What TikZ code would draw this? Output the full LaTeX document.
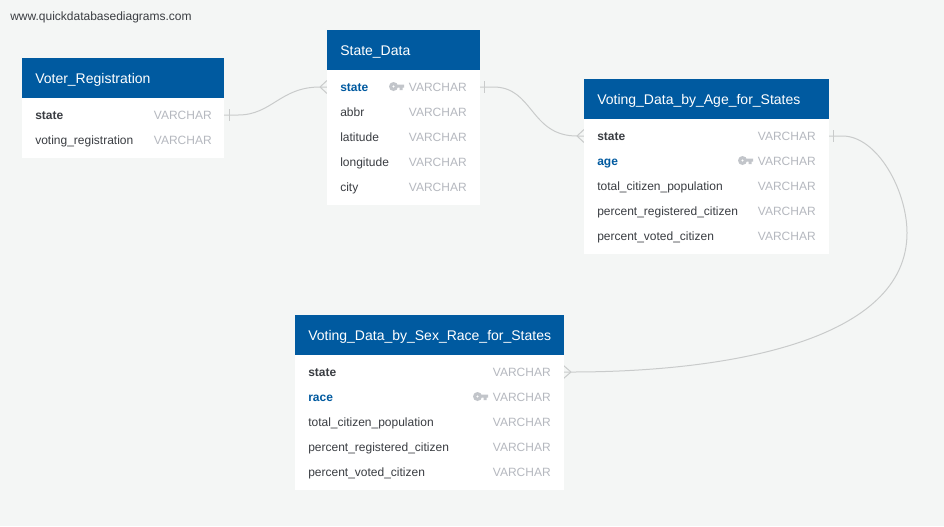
\documentclass[tikz,border=0pt]{standalone}
\usepackage{fontspec}
\setmainfont{Liberation Sans}
\definecolor{bgc}{HTML}{F4F6F5}
\definecolor{headc}{HTML}{005AA0}
\definecolor{typec}{HTML}{B5B8BF}
\definecolor{fieldc}{HTML}{3A3D42}
\definecolor{linkc}{HTML}{C9CBCB}
\definecolor{keyc}{HTML}{C2C5CA}
\tikzset{
  title/.style={text=white,font=\fontsize{10.5pt}{12pt}\selectfont,anchor=base west,inner sep=0pt},
  fname/.style={text=fieldc,font=\fontsize{9pt}{11pt}\selectfont,anchor=base west,inner sep=0pt},
  fbold/.style={fname,font=\fontsize{9pt}{11pt}\selectfont\bfseries},
  fkey/.style={fbold,text=headc},
  ftype/.style={text=typec,font=\fontsize{9pt}{11pt}\selectfont,anchor=base east,inner sep=0pt},
  link/.style={draw=linkc,line width=0.75pt},
}
\newcommand{\keyglyph}[2]{%
  \fill[keyc,even odd rule] (#1+4.5,#2) circle[radius=4.5] (#1+4.5,#2) circle[radius=1.4];
  \fill[keyc] (#1+8,#2-2) rectangle (#1+15,#2+1) (#1+10.5,#2+0.5) rectangle (#1+13.5,#2+3.5);
}
\begin{document}
\begin{tikzpicture}[x=0.75pt,y=-0.75pt]
\useasboundingbox (0,0) rectangle (944,526);
\fill[bgc] (0,0) rectangle (944,526);
\node[anchor=base west,inner sep=0pt,text=fieldc,font=\fontsize{9pt}{11pt}\selectfont] (wm) at (10,20) {www.quickdatabasediagrams.com};

% connectors
\coordinate (vrR) at (224,115);
\coordinate (sdLtip) at (320,87);
\coordinate (sdL) at (327,87);
\coordinate (sdR) at (479.5,87);
\coordinate (agLtip) at (577,136);
\coordinate (agL) at (584,136);
\coordinate (agR) at (828.5,136);
\coordinate (srRtip) at (571,372);
\coordinate (srR) at (563.5,372);
\draw[link] (vrR) -- ++(14,0) .. controls ++(34,0) and (280,87) .. (sdLtip) -- (sdL);
\draw[link] (vrR)++(5,-6) -- ++(0,12);
\draw[link] (sdLtip) -- (327,80.5) (sdLtip) -- (327,93.5);
\draw[link] (sdR) -- ++(14,0) .. controls ++(40,0) and (530,136) .. (agLtip) -- (agL);
\draw[link] (sdR)++(5,-6) -- ++(0,12);
\draw[link] (agLtip) -- (584,129.5) (agLtip) -- (584,142.5);
\draw[link] (agR) -- ++(14,0) .. controls (877,136) and (907,190) .. (907,233) .. controls (907,340) and (730,372) .. (srRtip) -- (srR);
\draw[link] (agR)++(5,-6) -- ++(0,12);
\draw[link] (srRtip) -- (563.5,365.5) (srRtip) -- (563.5,378.5);

% Voter_Registration
\fill[white] (22,98) rectangle (224,158);
\fill[headc] (22,58) rectangle (224,98);
\node[title] (vrT) at (35,83) {Voter\_Registration};
\node[fbold] (vr1) at (35,119.2) {state};
\node[ftype] (vr1t) at (212,119.2) {VARCHAR};
\node[fname] (vr2) at (35,144.2) {voting\_registration};
\node[ftype] (vr2t) at (212,144.2) {VARCHAR};

% State_Data
\fill[white] (327,70) rectangle (479.5,205);
\fill[headc] (327,30) rectangle (479.5,70);
\node[title] (sdT) at (340,55) {State\_Data};
\node[fkey] (sd1) at (340,91.2) {state};
\keyglyph{389}{86.5}
\node[ftype] (sd1t) at (467,91.2) {VARCHAR};
\node[fname] (sd2) at (340,116.2) {abbr};
\node[ftype] (sd2t) at (467,116.2) {VARCHAR};
\node[fname] (sd3) at (340,141.2) {latitude};
\node[ftype] (sd3t) at (467,141.2) {VARCHAR};
\node[fname] (sd4) at (340,166.2) {longitude};
\node[ftype] (sd4t) at (467,166.2) {VARCHAR};
\node[fname] (sd5) at (340,191.2) {city};
\node[ftype] (sd5t) at (467,191.2) {VARCHAR};

% Voting_Data_by_Age_for_States
\fill[white] (584,119) rectangle (828.5,254);
\fill[headc] (584,79) rectangle (828.5,119);
\node[title] (agT) at (597,104) {Voting\_Data\_by\_Age\_for\_States};
\node[fbold] (ag1) at (597,140.2) {state};
\node[ftype] (ag1t) at (816,140.2) {VARCHAR};
\node[fkey] (ag2) at (597,165.2) {age};
\keyglyph{738}{160.5}
\node[ftype] (ag2t) at (816,165.2) {VARCHAR};
\node[fname] (ag3) at (597,190.2) {total\_citizen\_population};
\node[ftype] (ag3t) at (816,190.2) {VARCHAR};
\node[fname] (ag4) at (597,215.2) {percent\_registered\_citizen};
\node[ftype] (ag4t) at (816,215.2) {VARCHAR};
\node[fname] (ag5) at (597,240.2) {percent\_voted\_citizen};
\node[ftype] (ag5t) at (816,240.2) {VARCHAR};

% Voting_Data_by_Sex_Race_for_States
\fill[white] (295,355) rectangle (563.5,490);
\fill[headc] (295,315) rectangle (563.5,355);
\node[title] (srT) at (308,340) {Voting\_Data\_by\_Sex\_Race\_for\_States};
\node[fbold] (sr1) at (308,376.2) {state};
\node[ftype] (sr1t) at (551,376.2) {VARCHAR};
\node[fkey] (sr2) at (308,401.2) {race};
\keyglyph{473}{396.5}
\node[ftype] (sr2t) at (551,401.2) {VARCHAR};
\node[fname] (sr3) at (308,426.2) {total\_citizen\_population};
\node[ftype] (sr3t) at (551,426.2) {VARCHAR};
\node[fname] (sr4) at (308,451.2) {percent\_registered\_citizen};
\node[ftype] (sr4t) at (551,451.2) {VARCHAR};
\node[fname] (sr5) at (308,476.2) {percent\_voted\_citizen};
\node[ftype] (sr5t) at (551,476.2) {VARCHAR};
\end{tikzpicture}
\end{document}
